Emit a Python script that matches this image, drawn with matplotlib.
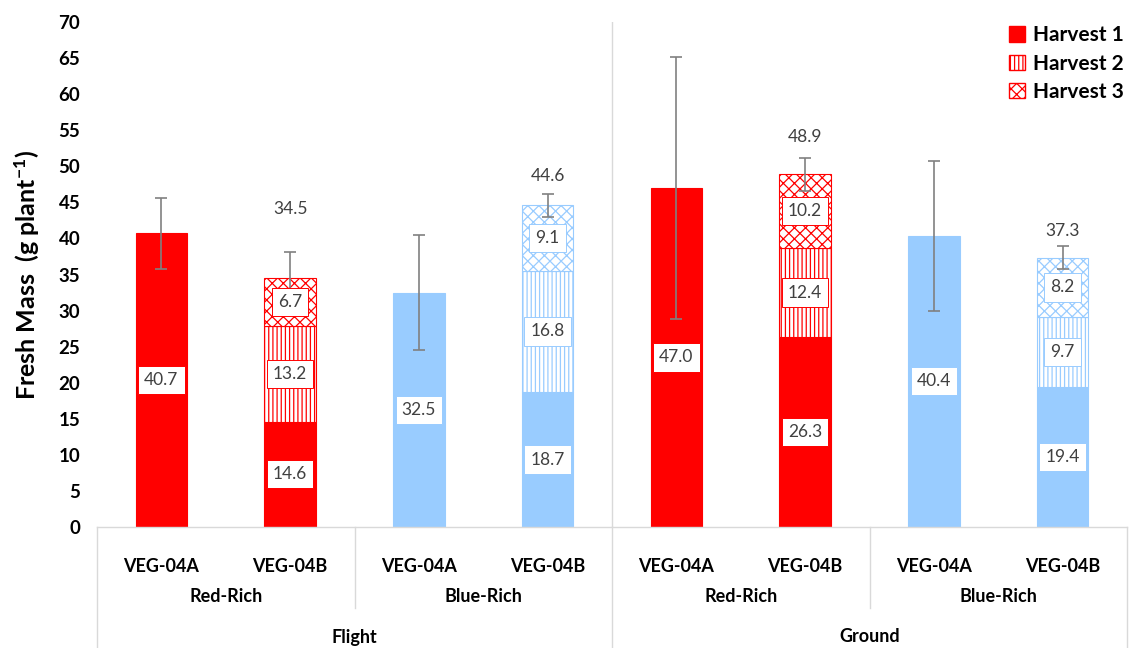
import numpy as np
import matplotlib
matplotlib.use("Agg")
import matplotlib.pyplot as plt
from matplotlib.patches import Patch
from matplotlib.lines import Line2D
from matplotlib.transforms import blended_transform_factory


# -----------------------------
# Data
# -----------------------------
cultivars = ["VEG-04A", "VEG-04B"] * 4
spectra = ["Red-Rich", "Blue-Rich", "Red-Rich", "Blue-Rich"]
locations = ["Flight", "Ground"]

harvest1 = [40.7, 14.6, 32.5, 18.7, 47.0, 26.3, 40.4, 19.4]
harvest2 = [np.nan, 13.2, np.nan, 16.8, np.nan, 12.4, np.nan, 9.7]
harvest3 = [np.nan, 6.7, np.nan, 9.1, np.nan, 10.2, np.nan, 8.2]
totals = [40.7, 34.5, 32.5, 44.6, 47.0, 48.9, 40.4, 37.3]
errors = [4.9, 3.6, 8.0, 1.6, 18.2, 2.3, 10.4, 1.6]

legend_labels = ["Harvest 1", "Harvest 2", "Harvest 3"]


# -----------------------------
# Style
# -----------------------------
RED = "#FF0000"
BLUE = "#99CCFF"
GRID = "#D9D9D9"
TEXT = "#404040"
bar_colors = [RED, RED, BLUE, BLUE, RED, RED, BLUE, BLUE]
total_pad = [0, 6.0, 0, 2.4, 0, 2.9, 0, 2.1]

plt.rcParams["font.family"] = ["Lato", "DejaVu Sans"]
plt.rcParams["mathtext.fontset"] = "custom"
plt.rcParams["mathtext.rm"] = "Lato"
plt.rcParams["mathtext.bf"] = "Lato:bold"
plt.rcParams["hatch.linewidth"] = 0.9

fig = plt.figure(figsize=(11.31, 6.48), dpi=100)
ax = fig.add_axes([97 / 1131, 121 / 648, 1030 / 1131, 505 / 648])

x = np.arange(len(harvest1))
width = 0.4

h1 = np.array(harvest1)
h2 = np.nan_to_num(np.array(harvest2))
h3 = np.nan_to_num(np.array(harvest3))

for i in x:
    c = bar_colors[i]
    ax.bar(i, h1[i], width, color=c, edgecolor=c, linewidth=0.8, zorder=2)
    if h2[i] > 0:
        ax.bar(i, h2[i], width, bottom=h1[i], facecolor="white",
               edgecolor=c, hatch="||||", linewidth=0.8, zorder=2)
        ax.bar(i, h3[i], width, bottom=h1[i] + h2[i], facecolor="white",
               edgecolor=c, hatch="xxx", linewidth=0.8, zorder=2)

# error bars
ax.errorbar(x, totals, yerr=errors, fmt="none", ecolor="#808080",
            elinewidth=1.2, capsize=4, capthick=1.2, zorder=3)

# value labels inside segments
def seg_label(xpos, ypos, val, c):
    ax.text(xpos, ypos, f"{val:.1f}", ha="center", va="center",
            fontsize=12.5, color=TEXT, zorder=5,
            bbox=dict(boxstyle="square,pad=0.35", facecolor="white",
                      edgecolor=c, linewidth=0.7))

for i in x:
    c = bar_colors[i]
    seg_label(i, h1[i] / 2, h1[i], c)
    if h2[i] > 0:
        seg_label(i, h1[i] + h2[i] / 2, h2[i], c)
        seg_label(i, h1[i] + h2[i] + h3[i] / 2, h3[i], c)
        ax.text(i, totals[i] + errors[i] + total_pad[i], f"{totals[i]:.1f}",
                ha="center", va="center", fontsize=12.5, color=TEXT, zorder=5)

# axes
ax.set_xlim(-0.5, 7.5)
ax.set_ylim(0, 70)
ax.set_yticks(np.arange(0, 71, 5))
ax.set_xticks([])
ax.tick_params(axis="y", length=0, pad=12, labelsize=13.5)
for lab in ax.get_yticklabels():
    lab.set_fontweight("bold")
for side in ["left", "right", "top"]:
    ax.spines[side].set_visible(False)
ax.spines["bottom"].set_color(GRID)
ax.spines["bottom"].set_linewidth(1.0)
ax.axvline(3.5, color=GRID, linewidth=1.0, zorder=1)

ax.set_ylabel("Fresh Mass  (g plant$\\mathbf{^{-1}}$)", fontsize=18,
              fontweight="bold", labelpad=12)

# multi-level category axis
trans = blended_transform_factory(ax.transData, ax.transAxes)
px = 1 / 505
for i in x:
    ax.text(i, -39 * px, cultivars[i], transform=trans, ha="center",
            va="center", fontsize=13, fontweight="bold", clip_on=False)
for k, name in enumerate(spectra):
    ax.text(2 * k + 0.5, -70 * px, name, transform=trans, ha="center",
            va="center", fontsize=13, fontweight="bold", clip_on=False)
for k, name in enumerate(locations):
    ax.text(4 * k + 1.5, -110 * px, name, transform=trans, ha="center",
            va="center", fontsize=13, fontweight="bold", clip_on=False)

for xv in [1.5, 5.5]:
    ax.add_line(Line2D([xv, xv], [0, -81 * px], transform=trans,
                       color=GRID, linewidth=1.0, clip_on=False))
for xv in [-0.5, 3.5, 7.5]:
    ax.add_line(Line2D([xv, xv], [0, -125 * px], transform=trans,
                       color=GRID, linewidth=1.0, clip_on=False))

# legend
handles = [
    Patch(facecolor=RED, edgecolor=RED),
    Patch(facecolor="white", edgecolor=RED, hatch="||||"),
    Patch(facecolor="white", edgecolor=RED, hatch="xxx"),
]
ax.legend(handles, legend_labels, loc="upper right",
          bbox_to_anchor=(1.005, 1.01), frameon=False, handlelength=0.75,
          handleheight=0.75, handletextpad=0.4, labelspacing=0.4,
          prop=dict(size=15, weight="bold"), borderaxespad=0)

fig.savefig("out.png", dpi=100)
